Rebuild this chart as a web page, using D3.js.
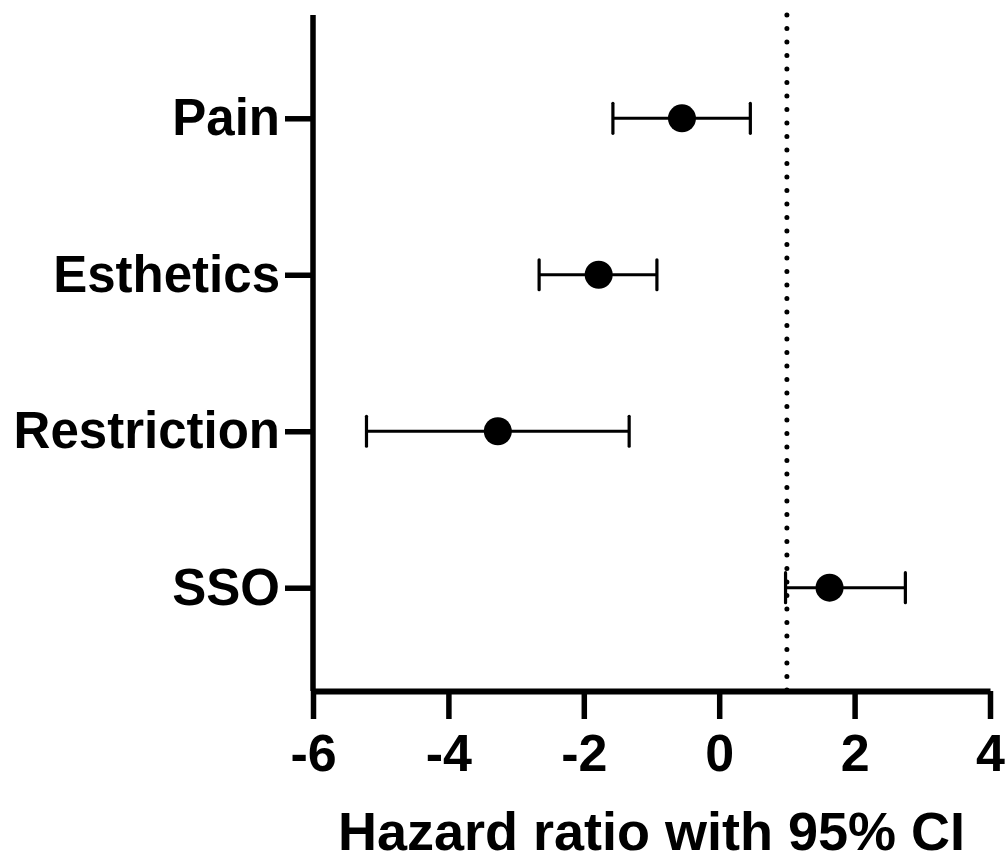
<!DOCTYPE html>
<html>
<head>
<meta charset="utf-8">
<script src="https://cdn.jsdelivr.net/npm/d3@7"></script>
<style>
  body { margin: 0; background: #fff; }
  svg text { font-family: "Liberation Sans", Arial, Helvetica, sans-serif; font-weight: bold; fill: #000; }
</style>
</head>
<body>
<svg id="chart"></svg>
<script>
// Forest plot data
const categories = ["Pain", "Esthetics", "Restriction", "SSO"];
const estimates = [-0.55, -1.78, -3.27, 1.63];
const lowerCI = [-1.57, -2.66, -5.21, 0.98];
const upperCI = [0.46, -0.92, -1.33, 2.75];
const xTicks = [-6, -4, -2, 0, 2, 4];
const refLine = 1;

const width = 1006;
const height = 863;

const svg = d3.select("#chart")
    .attr("width", width)
    .attr("height", height);

const x = d3.scaleLinear()
    .domain([-6, 4])
    .range([313, 990]);

const y = d3.scalePoint()
    .domain(categories)
    .range([15, 691])
    .padding(0.66);

const rows = categories.map((c, i) => ({
    cat: c, est: estimates[i], lo: lowerCI[i], hi: upperCI[i]
}));

// dotted reference line
svg.append("line")
    .attr("x1", x(refLine)).attr("x2", x(refLine))
    .attr("y1", 15).attr("y2", 694)
    .attr("stroke", "#000")
    .attr("stroke-width", 5)
    .attr("stroke-linecap", "round")
    .attr("stroke-dasharray", "0 13.5");

// x axis (plain hyphen for negatives, like the original)
const xAxis = svg.append("g")
    .attr("transform", `translate(0, 691)`)
    .call(d3.axisBottom(x)
        .tickValues(xTicks)
        .tickFormat(d => String(d))
        .tickSize(28).tickSizeOuter(0).tickPadding(15));
xAxis.select(".domain").attr("stroke-width", 6).attr("stroke", "#000");
xAxis.selectAll(".tick line").attr("stroke-width", 5.5).attr("stroke", "#000");
xAxis.selectAll(".tick text")
    .style("font-size", "52px")
    .style("font-family", "'Liberation Sans', Arial, sans-serif")
    .style("font-weight", "bold")
    .attr("fill", "#000");

// y axis
const yAxis = svg.append("g")
    .attr("transform", `translate(313, 0)`)
    .call(d3.axisLeft(y).tickSize(28).tickSizeOuter(0).tickPadding(5));
yAxis.select(".domain").attr("stroke-width", 5.5).attr("stroke", "#000")
    .attr("d", "M0,15V691");
yAxis.selectAll(".tick line").attr("stroke-width", 5.5).attr("stroke", "#000");
yAxis.selectAll(".tick text")
    .style("font-size", "51px")
    .style("font-family", "'Liberation Sans', Arial, sans-serif")
    .style("font-weight", "bold")
    .attr("fill", "#000");

// error bars
const bars = svg.append("g").selectAll("g")
    .data(rows)
    .enter().append("g");

bars.append("line")
    .attr("x1", d => x(d.lo)).attr("x2", d => x(d.hi))
    .attr("y1", d => y(d.cat)).attr("y2", d => y(d.cat))
    .attr("stroke", "#000").attr("stroke-width", 3);

bars.append("line")
    .attr("x1", d => x(d.lo)).attr("x2", d => x(d.lo))
    .attr("y1", d => y(d.cat) - 15).attr("y2", d => y(d.cat) + 15)
    .attr("stroke", "#000").attr("stroke-width", 3.2).attr("stroke-linecap", "round");

bars.append("line")
    .attr("x1", d => x(d.hi)).attr("x2", d => x(d.hi))
    .attr("y1", d => y(d.cat) - 15).attr("y2", d => y(d.cat) + 15)
    .attr("stroke", "#000").attr("stroke-width", 3.2).attr("stroke-linecap", "round");

bars.append("circle")
    .attr("cx", d => x(d.est))
    .attr("cy", d => y(d.cat))
    .attr("r", 14)
    .attr("fill", "#000");

// axis title
svg.append("text")
    .attr("x", (x.range()[0] + x.range()[1]) / 2)
    .attr("y", 850)
    .attr("text-anchor", "middle")
    .style("font-size", "54px")
    .text("Hazard ratio with 95% CI");
</script>
</body>
</html>
